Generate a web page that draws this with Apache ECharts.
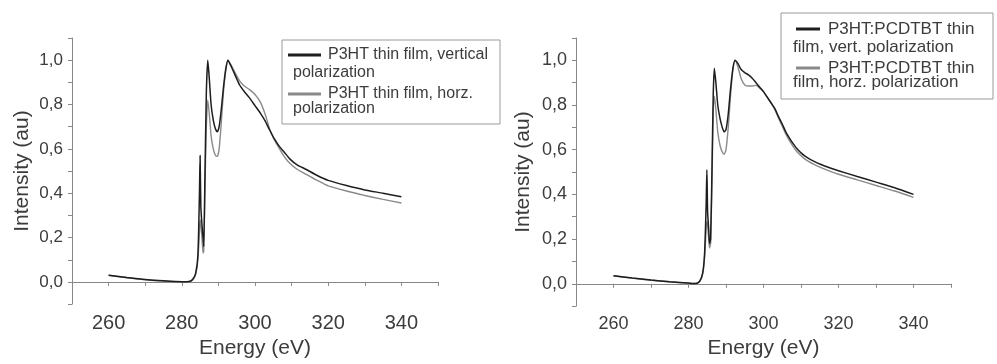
<!DOCTYPE html>
<html>
<head>
<meta charset="utf-8">
<script src="https://cdn.jsdelivr.net/npm/echarts@6/dist/echarts.min.js"></script>
<style>
html, body { margin: 0; padding: 0; background: #fff; }
#main { width: 997px; height: 364px; }
</style>
</head>
<body>
<div id="main"></div>
<script>
// left panel: P3HT thin film
var energyA = [260, 265, 270, 275, 280, 282, 283, 283.8, 284.4, 284.8, 285.0, 285.2, 285.5, 285.8, 286.0, 286.3, 286.7, 287.1, 287.5, 288.0, 288.6, 289.2, 289.7, 290.2, 290.8, 291.4, 292.0, 292.6, 293.4, 294.5, 295.8, 297.0, 298.5, 300.0, 301.5, 302.8, 304.0, 305.3, 306.7, 308.0, 309.5, 311.5, 314, 317, 320, 325, 330, 335, 340];
var vertA = [0.03, 0.02, 0.011, 0.005, 0.001, 0.002, 0.012, 0.04, 0.12, 0.38, 0.57, 0.34, 0.26, 0.2, 0.16, 0.45, 0.85, 1.0, 0.92, 0.8, 0.73, 0.69, 0.677, 0.7, 0.78, 0.88, 0.96, 1.0, 0.975, 0.935, 0.888, 0.86, 0.83, 0.795, 0.76, 0.725, 0.685, 0.645, 0.61, 0.585, 0.555, 0.528, 0.507, 0.48, 0.458, 0.435, 0.415, 0.40, 0.384];
var horzA = [0.03, 0.019, 0.01, 0.004, 0.0, 0.001, 0.01, 0.035, 0.1, 0.22, 0.28, 0.26, 0.2, 0.13, 0.14, 0.4, 0.7, 0.82, 0.76, 0.66, 0.6, 0.57, 0.566, 0.6, 0.72, 0.86, 0.95, 1.0, 0.98, 0.945, 0.907, 0.885, 0.867, 0.845, 0.81, 0.755, 0.69, 0.64, 0.6, 0.565, 0.535, 0.508, 0.485, 0.458, 0.433, 0.41, 0.39, 0.372, 0.356];

// right panel: P3HT:PCDTBT thin film
var energyB = [260, 265, 270, 275, 280, 282, 283, 283.8, 284.3, 284.7, 284.9, 285.1, 285.4, 285.6, 285.9, 286.3, 286.6, 286.9, 287.3, 287.8, 288.4, 289.0, 289.5, 290.0, 290.6, 291.2, 291.8, 292.4, 293.2, 294.0, 295.0, 296.0, 297.0, 298.0, 299.0, 300.0, 301.0, 302.0, 303.0, 304.0, 305.0, 306.0, 307.0, 308.0, 309.0, 310.0, 311.0, 312.0, 313.5, 315.0, 318.0, 320, 325, 330, 335, 340];
var vertB = [0.036, 0.026, 0.017, 0.009, 0.003, 0.001, 0.012, 0.05, 0.14, 0.35, 0.51, 0.32, 0.24, 0.18, 0.2, 0.55, 0.85, 0.965, 0.9, 0.8, 0.74, 0.70, 0.68, 0.69, 0.76, 0.87, 0.96, 1.0, 0.985, 0.96, 0.945, 0.935, 0.92, 0.9, 0.88, 0.86, 0.835, 0.81, 0.785, 0.748, 0.715, 0.678, 0.65, 0.625, 0.603, 0.586, 0.572, 0.561, 0.548, 0.536, 0.517, 0.506, 0.48, 0.455, 0.43, 0.40];
var horzB = [0.036, 0.025, 0.016, 0.009, 0.003, 0.001, 0.01, 0.045, 0.12, 0.24, 0.28, 0.26, 0.2, 0.16, 0.18, 0.5, 0.78, 0.84, 0.78, 0.68, 0.62, 0.59, 0.58, 0.6, 0.7, 0.84, 0.95, 1.0, 0.97, 0.92, 0.89, 0.885, 0.885, 0.888, 0.875, 0.86, 0.835, 0.81, 0.78, 0.742, 0.705, 0.668, 0.638, 0.612, 0.59, 0.573, 0.559, 0.548, 0.534, 0.522, 0.502, 0.49, 0.465, 0.44, 0.415, 0.387];

var xTickLabels = [260, 280, 300, 320, 340];
var yTickLabels = ['0,0', '0,2', '0,4', '0,6', '0,8', '1,0'];

var legendA = [['P3HT thin film, vertical', 'polarization'], ['P3HT thin film, horz.', 'polarization']];
var legendB = [['P3HT:PCDTBT thin', 'film, vert. polarization'], ['P3HT:PCDTBT thin', 'film, horz. polarization']];

var FONT = '"Liberation Sans", Arial, sans-serif';
var TXT = '#3c3c3c';
var DARK = '#1e1e1e';
var GREY = '#8a8a8a';

function pairs(xs, ys) {
	var out = [];
	for (var i = 0; i < xs.length; i++) out.push([xs[i], ys[i]]);
	return out;
}

function xAxisFor(idx, labelSize, gap) {
	return {
		type: 'value', gridIndex: idx, min: 250, max: 350, interval: 10,
		name: 'Energy (eV)', nameLocation: 'middle', nameGap: gap,
		nameTextStyle: { fontFamily: FONT, fontSize: 21, color: TXT },
		axisLine: { lineStyle: { color: '#888', width: 1 } },
		axisTick: { length: 4, lineStyle: { color: '#888' } },
		axisLabel: {
			margin: 9, fontFamily: FONT, fontSize: labelSize, color: TXT,
			formatter: function (v) {
				var r = Math.round(v);
				return xTickLabels.indexOf(r) >= 0 ? String(r) : '';
			}
		},
		splitLine: { show: false }
	};
}

function yAxisFor(idx, labelSize, gap) {
	return {
		type: 'value', gridIndex: idx, min: -0.1, max: 1.1, interval: 0.1,
		name: 'Intensity (au)', nameLocation: 'middle', nameGap: gap,
		nameTextStyle: { fontFamily: FONT, fontSize: 21, color: TXT },
		axisLine: { show: true, lineStyle: { color: '#888', width: 1 } },
		axisTick: { show: true, length: 4, lineStyle: { color: '#888' } },
		axisLabel: {
			margin: 9, fontFamily: FONT, fontSize: labelSize, color: TXT,
			formatter: function (v) {
				var k = Math.round(v * 10);
				if (k < 0 || k % 2 !== 0) return '';
				return yTickLabels[k / 2] || '';
			}
		},
		splitLine: { show: false }
	};
}

function lineSeries(idx, name, data, color, width) {
	return {
		type: 'line', name: name, xAxisIndex: idx, yAxisIndex: idx,
		data: data, showSymbol: false, smooth: 0.2,
		lineStyle: { color: color, width: width }, z: color === DARK ? 3 : 2
	};
}

// legend box drawn as graphics (two-line entries)
function legendBox(x, y, w, h, rows, size, lineX1, lineX2, textX, wrapX, rowY, wrapY) {
	var els = [{
		type: 'rect', shape: { x: x, y: y, width: w, height: h },
		style: { fill: '#fff', stroke: '#9a9a9a', lineWidth: 1 }
	}];
	var colors = [DARK, GREY];
	for (var i = 0; i < rows.length; i++) {
		els.push({
			type: 'line', shape: { x1: lineX1, y1: rowY[i], x2: lineX2, y2: rowY[i] },
			style: { stroke: colors[i], lineWidth: 3 }
		});
		els.push({
			type: 'text', x: textX, y: rowY[i],
			style: { text: rows[i][0], font: size + 'px ' + FONT, fill: TXT, verticalAlign: 'middle' }
		});
		els.push({
			type: 'text', x: wrapX, y: wrapY[i],
			style: { text: rows[i][1], font: size + 'px ' + FONT, fill: TXT, verticalAlign: 'middle' }
		});
	}
	return els;
}

var chart = echarts.init(document.getElementById('main'), null, { renderer: 'canvas' });

var option = {
	backgroundColor: '#fff',
	animation: false,
	grid: [
		{ left: 72, top: 38, width: 366, height: 271 },
		{ left: 576, top: 38, width: 375, height: 276 }
	],
	xAxis: [xAxisFor(0, 20, 32), xAxisFor(1, 18, 30)],
	yAxis: [yAxisFor(0, 17, 39), yAxisFor(1, 18, 42)],
	series: [
		lineSeries(0, legendA[1][0], pairs(energyA, horzA), GREY, 1.4),
		lineSeries(0, legendA[0][0], pairs(energyA, vertA), DARK, 1.5),
		lineSeries(1, legendB[1][0], pairs(energyB, horzB), GREY, 1.4),
		lineSeries(1, legendB[0][0], pairs(energyB, vertB), DARK, 1.5)
	],
	graphic: legendBox(282, 40, 218, 84, legendA, 16, 288, 321, 328, 293, [55, 94], [73, 109])
		.concat(legendBox(781, 13, 212, 86, legendB, 17, 796, 820, 828, 793, [29, 68], [47, 82]))
};

chart.setOption(option);
</script>
</body>
</html>
